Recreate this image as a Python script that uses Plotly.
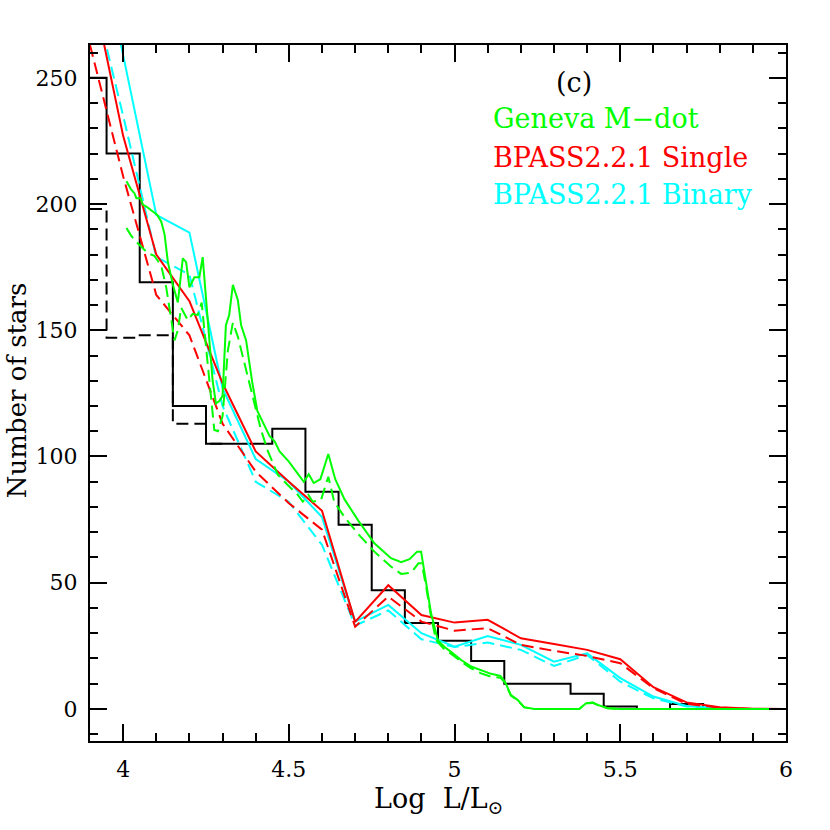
import plotly.graph_objects as go

# Observed histogram (bin centres, 0.1 dex bins)
bin_centers = [3.9, 4.0, 4.1, 4.2, 4.3, 4.4, 4.5, 4.6, 4.7, 4.8, 4.9, 5.0,
               5.1, 5.2, 5.3, 5.4, 5.5, 5.6, 5.7, 5.8, 5.9, 6.0]
obs_counts = [250, 220, 169, 120, 105, 105, 111, 86, 73, 47, 34, 27,
              19, 10, 10, 6, 1, 0, 2, 0, 0, 0]
obs_alt_centers = [3.9, 4.0, 4.1, 4.2, 4.3]
obs_alt_counts = [198, 147, 148, 113, 105]

# BPASS models on the same grid
model_logL = bin_centers
bpass_single = [290, 227, 180, 161.5, 129, 102, 90, 78.5, 34.5, 49, 37.2, 34.2,
                35.3, 28, 25.7, 23.4, 19.7, 8.6, 2.6, 0.7, 0.1, 0]
bpass_single_alt = [263, 211, 164, 148, 113, 94, 81.5, 71, 32.6, 44.5, 34.6, 31,
                    32, 25.4, 23, 21, 18.1, 8.2, 2, 0.5, 0, 0]
bpass_binary = [320, 259, 195.7, 188.7, 127, 99, 90, 76, 34.6, 41.2, 30, 24.7,
                28.9, 25.4, 18.7, 22, 12.2, 4.9, 1.2, 0.2, 0, 0]
bpass_binary_alt = [289, 235, 179, 172, 120, 90, 82, 65, 33, 39, 27.6, 24.5,
                    26.3, 23.4, 17, 21.4, 10.8, 4.2, 1, 0.2, 0, 0]

# Geneva M-dot models (finer sampling)
geneva_logL = [4.01, 4.024, 4.034, 4.04, 4.052, 4.06, 4.07, 4.084, 4.103, 4.115,
               4.125, 4.135, 4.15, 4.165, 4.18, 4.19, 4.2, 4.215, 4.23, 4.24,
               4.25, 4.26, 4.27, 4.28, 4.29, 4.3, 4.31, 4.32, 4.331, 4.346,
               4.356, 4.371, 4.39, 4.405, 4.426, 4.442, 4.457, 4.472, 4.5, 4.545,
               4.56, 4.575, 4.595, 4.619, 4.64, 4.668, 4.71, 4.758, 4.808, 4.839,
               4.864, 4.887, 4.899, 4.909, 4.929, 4.95, 4.97, 4.99, 5.02, 5.05,
               5.08, 5.11, 5.138, 5.152, 5.17, 5.19, 5.21, 5.24, 5.376, 5.397,
               5.417, 5.432, 5.462, 5.5, 6.0]
geneva = [209, 205.8, 204.3, 202.3, 202.3, 199.7, 199, 197.7, 195.7, 193,
          188, 177, 168, 161, 178.5, 177, 167, 171, 171, 179,
          163, 143.5, 130, 121, 122, 124, 152, 156, 168, 162,
          152, 146, 129, 118, 112, 108, 106, 102, 98, 90,
          93, 89.5, 91, 101, 91, 83, 74.5, 65.6, 59.7, 58.1,
          59.3, 62.3, 62.3, 53.8, 37.9, 27, 24.5, 22.5, 19.4, 16.8,
          15.2, 13.9, 13.1, 10.8, 5.5, 3.6, 0.7, 0, 0, 2.3,
          2.5, 1.6, 0.3, 0, 0]
geneva_alt_logL = [4.01, 4.024, 4.04, 4.05, 4.075, 4.094, 4.115, 4.13, 4.145, 4.155,
                   4.165, 4.175, 4.195, 4.21, 4.225, 4.237, 4.25, 4.26, 4.275, 4.286,
                   4.3, 4.316, 4.331, 4.346, 4.361, 4.381, 4.396, 4.416, 4.437, 4.467,
                   4.502, 4.527, 4.542, 4.559, 4.572, 4.597, 4.619, 4.637, 4.668, 4.708,
                   4.758, 4.808, 4.839, 4.869, 4.891, 4.901, 4.914, 4.929, 4.944, 4.97,
                   4.99, 5.02, 5.05, 5.08, 5.11, 5.138, 5.152, 5.17, 5.19, 5.21,
                   5.24, 5.376, 5.397, 5.417, 5.432, 5.462, 5.5, 6.0]
geneva_alt = [190.5, 187.5, 185, 183.8, 180.5, 179.5, 175.5, 167, 154, 146,
              150, 159, 154, 156.5, 156, 161, 143.5, 130.3, 110.5, 110,
              116, 142, 153, 147.5, 139.6, 129, 120, 110.5, 102, 92.7,
              88, 84.8, 82.1, 84.8, 82.1, 82.8, 92, 82, 76, 69.5,
              62.3, 56.4, 53.5, 54, 57.7, 57.7, 48.5, 36.6, 27.3, 23.5,
              21.8, 18.7, 16.1, 14.1, 12.8, 12.4, 10.4, 5.3, 3.4, 0.6,
              0, 0, 2.2, 2.4, 1.5, 0.3, 0, 0]

legend_labels = ["Geneva M\u2212dot", "BPASS2.2.1 Single", "BPASS2.2.1 Binary"]

GREEN = "#00ff00"
RED = "#ff0000"
CYAN = "#00ffff"
DASH = "12px,6px"
FONT = "DejaVu Serif"

fig = go.Figure()

def add_line(x, y, color, dash=None, shape="linear", width=2):
    fig.add_trace(go.Scatter(x=x, y=y, mode="lines",
                             line=dict(color=color, width=width, dash=dash, shape=shape),
                             showlegend=False, hoverinfo="skip"))

add_line(bin_centers, obs_counts, "black", shape="hvh")
add_line(obs_alt_centers, obs_alt_counts, "black", dash=DASH, shape="hvh")
add_line(model_logL, bpass_binary, CYAN)
add_line(model_logL, bpass_binary_alt, CYAN, dash=DASH)
add_line(model_logL, bpass_single, RED)
add_line(model_logL, bpass_single_alt, RED, dash=DASH)
add_line(geneva_logL, geneva, GREEN)
add_line(geneva_alt_logL, geneva_alt, GREEN, dash=DASH)

axis_common = dict(showline=True, linewidth=2, linecolor="black", mirror="allticks",
                   ticks="inside", tickwidth=2, tickcolor="black", ticklen=17,
                   showgrid=False, zeroline=False,
                   tickfont=dict(family=FONT, size=22, color="black"))

fig.update_xaxes(range=[3.9, 6.0], tick0=4, dtick=0.5, ticklabelstandoff=8,
                 minor=dict(ticks="inside", ticklen=8, tickwidth=1.5, tickcolor="black",
                            tick0=4, dtick=0.1, showgrid=False),
                 **axis_common)
fig.update_yaxes(range=[-12.7, 263], tick0=0, dtick=50, ticklabelstandoff=6,
                 minor=dict(ticks="inside", ticklen=8, tickwidth=1.5, tickcolor="black",
                            tick0=0, dtick=10, showgrid=False),
                 **axis_common)

ann_font = dict(family=FONT, size=27)
fig.add_annotation(x=5.36, y=248, text="(c)", showarrow=False,
                   xanchor="center", yanchor="middle", font=dict(color="black", **ann_font))
for label, color, yv in zip(legend_labels, [GREEN, RED, CYAN], [233.8, 218.5, 203.6]):
    fig.add_annotation(x=5.11, y=yv, text=label, showarrow=False,
                       xanchor="left", yanchor="middle", font=dict(color=color, **ann_font))

fig.add_annotation(xref="paper", yref="paper", x=-0.105, y=0.504,
                   text="Number of stars", textangle=-90, showarrow=False,
                   xanchor="center", yanchor="middle",
                   font=dict(family=FONT, size=26, color="black"))
fig.add_annotation(xref="paper", yref="paper", x=0.5, y=-0.085,
                   text="Log  L/L<sub>\u2299</sub>", showarrow=False,
                   xanchor="center", yanchor="middle",
                   font=dict(family=FONT, size=27, color="black"))

fig.update_layout(width=830, height=830, plot_bgcolor="white", paper_bgcolor="white",
                  margin=dict(l=90, r=44, t=45, b=89), showlegend=False)

fig.write_html("out.html", config={"displayModeBar": False},
               post_script="document.body.style.margin='0';")
